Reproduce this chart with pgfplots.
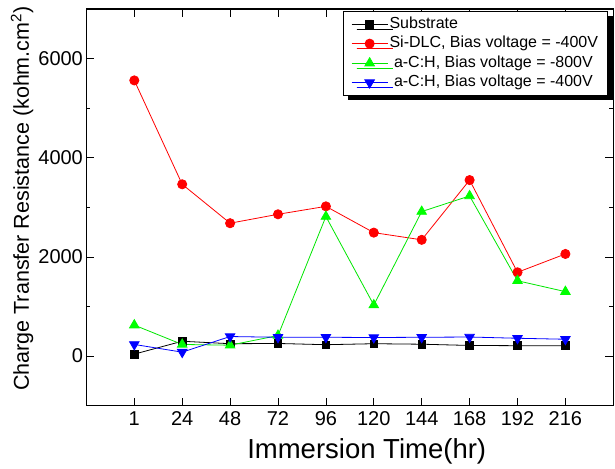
\documentclass[border=0pt]{standalone}
\usepackage{fontspec}
\setmainfont{Liberation Sans}
\usepackage{pgfplots}
\pgfplotsset{compat=1.18}
\usetikzlibrary{shadows}

\definecolor{cgreen}{RGB}{0,230,0}

\begin{document}
\begin{tikzpicture}
\begin{axis}[
  scale only axis,
  width=526.9bp, height=396.7bp,
  xmin=0, xmax=11,
  ymin=-1000, ymax=7000,
  xtick={1,2,3,4,5,6,7,8,9,10},
  xticklabels={1,24,48,72,96,120,144,168,192,216},
  ytick={0,2000,4000,6000},
  minor ytick={-1000,1000,3000,5000},
  tick align=inside,
  major tick length=8bp,
  minor tick length=4bp,
  tick style={black, line width=0.8bp},
  axis line style={line width=1.2bp},
  /pgf/number format/assume math mode=true,
  /pgf/number format/1000 sep={},
  tick label style={font=\fontsize{20bp}{24bp}\selectfont},
  xticklabel style={yshift=-2.5bp},
  xlabel={Immersion Time(hr)},
  ylabel={Charge Transfer Resistance (kohm.cm\textsuperscript{2})},
  xlabel style={font=\fontsize{27.5bp}{32bp}\selectfont,
    at={(axis description cs:0.532,0)}, anchor=base, yshift=-53.3bp},
  ylabel style={font=\fontsize{21.5bp}{26bp}\selectfont,
    at={(axis description cs:-0.1091,0.522)}, anchor=base},
  legend cell align=left,
  legend style={
    at={(1,1)}, anchor=north east, xshift=-5.3bp, yshift=-2bp,
    font=\fontsize{16bp}{19bp}\selectfont,
    draw=black, line width=0.8bp, fill=white,
    inner xsep=8bp, inner ysep=3bp,
    row sep=0bp,
    nodes={inner sep=1.5bp},
    /tikz/every even column/.append style={nodes={text height=12.5bp, text depth=4bp}},
    drop shadow={opacity=1, fill=black, shadow xshift=5bp, shadow yshift=-5bp},
  },
  legend image code/.code={
    \draw[mark repeat=2, mark phase=2] plot coordinates {(0bp,0bp) (18bp,0bp) (36bp,0bp)};
  },
  every axis plot/.append style={line width=0.8bp},
]

\addplot[black, mark=square*, mark size=3.8bp, mark options={solid}] coordinates {
  (1,40) (2,300) (3,250) (4,255) (5,230) (6,250) (7,240) (8,215) (9,210) (10,210)
};
\addlegendentry{Substrate}

\addplot[red, mark=*, mark size=4.6bp, mark options={solid, fill=red}] coordinates {
  (1,5560) (2,3465) (3,2680) (4,2860) (5,3020) (6,2490) (7,2345) (8,3550) (9,1690) (10,2060)
};
\addlegendentry{Si-DLC, Bias voltage = -400V}

\addplot[color=cgreen, mark=triangle*, mark size=5.5bp, mark options={solid, fill=green, draw=green}] coordinates {
  (1,625) (2,235) (3,220) (4,415) (5,2815) (6,1030) (7,2915) (8,3230) (9,1520) (10,1300)
};
\addlegendentry{\ a-C:H, Bias voltage = -800V}

\addplot[blue, mark=triangle*, mark size=5.5bp, mark options={solid, fill=blue, rotate=180}] coordinates {
  (1,235) (2,80) (3,395) (4,380) (5,380) (6,375) (7,380) (8,385) (9,360) (10,340)
};
\addlegendentry{\ a-C:H, Bias voltage = -400V}

\end{axis}
\path ([xshift=-86.4bp,yshift=-60.3bp]current axis.south west)
  rectangle ([xshift=1.7bp,yshift=9bp]current axis.north east);
\end{tikzpicture}
\end{document}
